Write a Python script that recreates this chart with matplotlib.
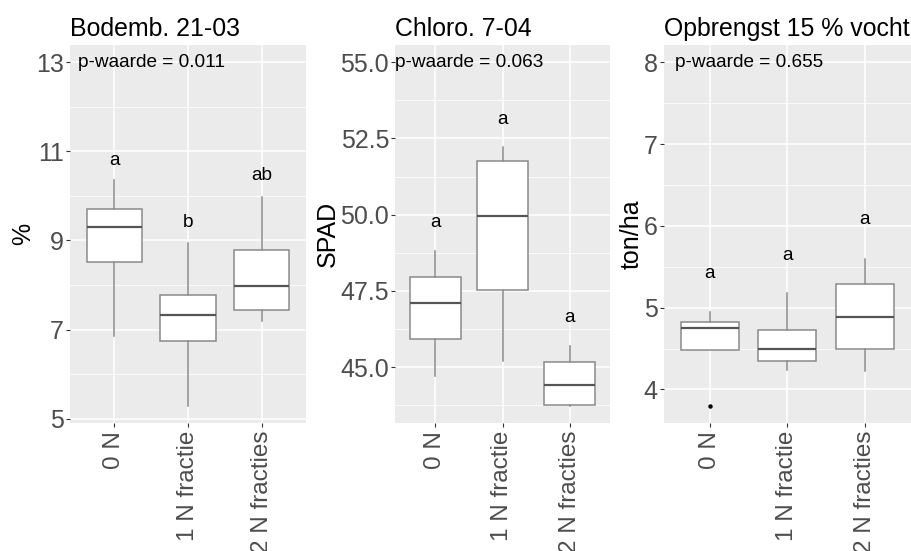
import matplotlib
matplotlib.use("Agg")
import matplotlib.pyplot as plt
from matplotlib.ticker import FixedLocator

plt.rcParams['font.family'] = ['Liberation Sans', 'DejaVu Sans']

categories = ["0 N", "1 N fractie", "2 N fracties"]

# Panel 1: Bodemb. 21-03 (%)
p1_title = "Bodemb. 21-03"
p1_ylabel = "%"
p1_whislo = [6.86, 5.29, 7.19]
p1_q1 = [8.52, 6.75, 7.45]
p1_med = [9.30, 7.33, 7.98]
p1_q3 = [9.70, 7.77, 8.79]
p1_whishi = [10.35, 8.95, 9.98]
p1_fliers = [[], [], []]
p1_letters = ["a", "b", "ab"]
p1_letter_y = [10.80, 9.41, 10.45]
p1_pval = "p-waarde = 0.011"
p1_pval_y = 13
p1_ticks = [5, 7, 9, 11, 13]
p1_ticklabels = ["5", "7", "9", "11", "13"]

# Panel 2: Chloro. 7-04 (SPAD)
p2_title = "Chloro. 7-04"
p2_ylabel = "SPAD"
p2_whislo = [44.71, 45.21, 43.73]
p2_q1 = [45.91, 47.54, 43.77]
p2_med = [47.11, 49.95, 44.41]
p2_q3 = [47.95, 51.75, 45.17]
p2_whishi = [48.80, 52.22, 45.70]
p2_fliers = [[], [], []]
p2_letters = ["a", "a", "a"]
p2_letter_y = [49.73, 53.13, 46.63]
p2_pval = "p-waarde = 0.063"
p2_pval_y = 55.0
p2_ticks = [45.0, 47.5, 50.0, 52.5, 55.0]
p2_ticklabels = ["45.0", "47.5", "50.0", "52.5", "55.0"]

# Panel 3: Opbrengst 15 % vocht (ton/ha)
p3_title = "Opbrengst 15 % vocht"
p3_ylabel = "ton/ha"
p3_whislo = [4.48, 4.24, 4.22]
p3_q1 = [4.48, 4.35, 4.49]
p3_med = [4.75, 4.49, 4.89]
p3_q3 = [4.83, 4.73, 5.29]
p3_whishi = [4.95, 5.18, 5.60]
p3_fliers = [[3.80], [], []]
p3_letters = ["a", "a", "a"]
p3_letter_y = [5.42, 5.64, 6.08]
p3_pval = "p-waarde = 0.655"
p3_pval_y = 8
p3_ticks = [4, 5, 6, 7, 8]
p3_ticklabels = ["4", "5", "6", "7", "8"]

W, H = 911, 551
fig = plt.figure(figsize=(W / 100, H / 100), dpi=100)

panels = [
    (70, 306, p1_title, p1_ylabel, p1_whislo, p1_q1, p1_med, p1_q3, p1_whishi, p1_fliers,
     p1_letters, p1_letter_y, p1_pval, p1_pval_y, p1_ticks, p1_ticklabels, 23),
    (395, 610, p2_title, p2_ylabel, p2_whislo, p2_q1, p2_med, p2_q3, p2_whishi, p2_fliers,
     p2_letters, p2_letter_y, p2_pval, p2_pval_y, p2_ticks, p2_ticklabels, 328),
    (663.5, 911, p3_title, p3_ylabel, p3_whislo, p3_q1, p3_med, p3_q3, p3_whishi, p3_fliers,
     p3_letters, p3_letter_y, p3_pval, p3_pval_y, p3_ticks, p3_ticklabels, 632),
]

top_px, bot_px = 45, 423
tick_col = "#4D4D4D"
box_col = "#8a8a8a"

for (l, r, title, ylab, wlo, q1, med, q3, whi, fl, letters, ly, pval, pvy,
     ticks, tlabels, ylab_x) in panels:
    ax = fig.add_axes([l / W, 1 - bot_px / H, (r - l) / W, (bot_px - top_px) / H])
    ax.set_facecolor("#EBEBEB")
    for s in ax.spines.values():
        s.set_visible(False)

    stats = []
    for i in range(len(categories)):
        stats.append(dict(med=med[i], q1=q1[i], q3=q3[i], whislo=wlo[i],
                          whishi=whi[i], fliers=fl[i], label=categories[i]))
    pos = list(range(1, len(categories) + 1))
    ax.bxp(stats, positions=pos, widths=0.75, patch_artist=True, showcaps=False,
           boxprops=dict(facecolor="white", edgecolor=box_col, linewidth=1.1),
           whiskerprops=dict(color=box_col, linewidth=1.1),
           medianprops=dict(color="#555555", linewidth=1.6),
           flierprops=dict(marker="o", markersize=2.2, markerfacecolor="black",
                           markeredgecolor="black", linestyle="none"),
           zorder=3)

    # limits (ggplot-like 5% expansion over data incl. p-value text)
    lo = min(min(wlo), min([v for f in fl for v in f] + [min(wlo)]))
    hi = pvy
    pad = 0.05 * (hi - lo)
    ax.set_ylim(lo - pad, hi + pad)
    ax.set_xlim(0.4, len(categories) + 0.6)

    # grid
    ax.yaxis.set_major_locator(FixedLocator(ticks))
    step = ticks[1] - ticks[0]
    minors = [ticks[0] - step / 2] + [t + step / 2 for t in ticks]
    ax.yaxis.set_minor_locator(FixedLocator(minors))
    ax.set_yticklabels(tlabels)
    ax.set_xticks(pos)
    ax.set_xticklabels(categories, rotation=90, ha="center", va="top")
    ax.grid(True, which="major", color="white", linewidth=1.1, zorder=0)
    ax.grid(True, which="minor", axis="y", color="white", linewidth=0.55, zorder=0)
    ax.set_axisbelow(True)
    ax.tick_params(axis="both", which="major", length=2.75, width=0.8, color="#333333",
                   labelcolor=tick_col, labelsize=18)
    ax.tick_params(axis="x", which="major", labelsize=17.5, pad=3)
    ax.tick_params(axis="y", which="major", pad=1.5)
    ax.tick_params(which="minor", length=0)

    # texts
    ax.text(1.5, pvy, pval, ha="center", va="center", fontsize=13.7, color="black", zorder=5)
    for x, y, t in zip(pos, ly, letters):
        ax.text(x, y, t, ha="center", va="center", fontsize=13.7, color="black", zorder=5)

    ax.set_title(title, loc="left", fontsize=17.9, color="black", pad=6.5)
    ax.set_ylabel(ylab, fontsize=18, color="black")
    ax.yaxis.label.set_va("center")
    ax.yaxis.set_label_coords((ylab_x - l) / (r - l), 0.5)

fig.savefig("out.png", dpi=100)
